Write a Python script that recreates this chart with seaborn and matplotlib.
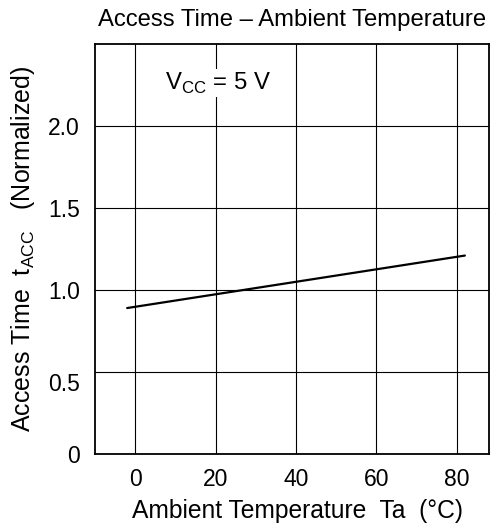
import matplotlib
matplotlib.use("Agg")
import matplotlib.pyplot as plt
import matplotlib.transforms as mtransforms
import seaborn as sns
import pandas as pd

# Data
temperature = [-2, 82]
access_time = [0.89, 1.21]
x_ticks = [0, 20, 40, 60, 80]
y_ticks = [0, 0.5, 1.0, 1.5, 2.0]
y_tick_labels = ["0", "0.5", "1.0", "1.5", "2.0"]

sns.set_theme(style="white")
plt.rcParams["font.family"] = ["Liberation Sans", "DejaVu Sans"]
plt.rcParams["mathtext.fontset"] = "custom"
plt.rcParams["mathtext.rm"] = "Liberation Sans"

FS = 17.2
TFS = 16.5

fig = plt.figure(figsize=(4.97, 5.24), dpi=100)
ax = fig.add_axes([95/497, 1-454/524, (489-95)/497, (454-44)/524])

df = pd.DataFrame({"Ta": temperature, "tACC": access_time})
sns.lineplot(data=df, x="Ta", y="tACC", ax=ax, color="black", linewidth=1.6)

ax.set_xlim(-10, 88)
ax.set_ylim(0, 2.5)
ax.set_xticks(x_ticks)
ax.set_yticks(y_ticks)
ax.set_yticklabels(y_tick_labels)
ax.tick_params(axis="both", length=0, labelsize=TFS, colors="black")
ax.tick_params(axis="y", pad=11)
ax.tick_params(axis="x", pad=10)

# shift "0.5" label slightly down as in reference
lbl = ax.get_yticklabels()[1]
lbl.set_transform(lbl.get_transform() + mtransforms.ScaledTranslation(0, -10/100, fig.dpi_scale_trans))

for v in x_ticks:
    ax.axvline(v, color="black", linewidth=0.8, zorder=1)
for v in y_ticks[1:]:
    ax.axhline(v, color="black", linewidth=0.8, zorder=1)

for s in ax.spines.values():
    s.set_color("black")
    s.set_linewidth(1.3)

ax.set_xlabel("Ambient Temperature  Ta  (°C)", fontsize=17.7, color="black", labelpad=6)
ax.xaxis.label.set_x(0.513)
ax.set_ylabel(r"Access Time  t$_{\mathregular{ACC}}$   (Normalized)", fontsize=18, color="black", labelpad=8)
ax.set_title("Access Time – Ambient Temperature", fontsize=FS, color="black", pad=13)

ax.text(7.5, 2.26, r"V$_{\mathregular{CC}}$ = 5 V", fontsize=FS, color="black",
        ha="left", va="center", zorder=3,
        bbox=dict(facecolor="white", edgecolor="none", pad=1))

fig.savefig("out.png", dpi=100)
